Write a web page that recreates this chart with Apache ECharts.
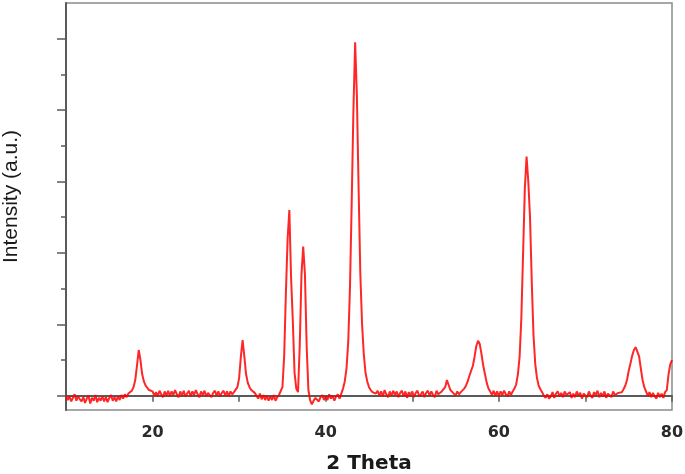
<!DOCTYPE html>
<html>
<head>
<meta charset="utf-8">
<script src="https://cdn.jsdelivr.net/npm/echarts@6/dist/echarts.min.js"></script>
<style>
html, body { margin: 0; padding: 0; background: #fff; }
#chart { width: 685px; height: 474px; }
</style>
</head>
<body>
<div id="chart"></div>
<script>
// 2θ scan, 0.2° step
var twoTheta = [
  10.0, 10.2, 10.4, 10.6, 10.8, 11.0, 11.2, 11.4, 11.6, 11.8,
  12.0, 12.2, 12.4, 12.6, 12.8, 13.0, 13.2, 13.4, 13.6, 13.8,
  14.0, 14.2, 14.4, 14.6, 14.8, 15.0, 15.2, 15.4, 15.6, 15.8,
  16.0, 16.2, 16.4, 16.6, 16.8, 17.0, 17.2, 17.4, 17.6, 17.8,
  18.0, 18.2, 18.4, 18.6, 18.8, 19.0, 19.2, 19.4, 19.6, 19.8,
  20.0, 20.2, 20.4, 20.6, 20.8, 21.0, 21.2, 21.4, 21.6, 21.8,
  22.0, 22.2, 22.4, 22.6, 22.8, 23.0, 23.2, 23.4, 23.6, 23.8,
  24.0, 24.2, 24.4, 24.6, 24.8, 25.0, 25.2, 25.4, 25.6, 25.8,
  26.0, 26.2, 26.4, 26.6, 26.8, 27.0, 27.2, 27.4, 27.6, 27.8,
  28.0, 28.2, 28.4, 28.6, 28.8, 29.0, 29.2, 29.4, 29.6, 29.8,
  30.0, 30.2, 30.4, 30.6, 30.8, 31.0, 31.2, 31.4, 31.6, 31.8,
  32.0, 32.2, 32.4, 32.6, 32.8, 33.0, 33.2, 33.4, 33.6, 33.8,
  34.0, 34.2, 34.4, 34.6, 34.8, 35.0, 35.2, 35.4, 35.6, 35.8,
  36.0, 36.2, 36.4, 36.6, 36.8, 37.0, 37.2, 37.4, 37.6, 37.8,
  38.0, 38.2, 38.4, 38.6, 38.8, 39.0, 39.2, 39.4, 39.6, 39.8,
  40.0, 40.2, 40.4, 40.6, 40.8, 41.0, 41.2, 41.4, 41.6, 41.8,
  42.0, 42.2, 42.4, 42.6, 42.8, 43.0, 43.2, 43.4, 43.6, 43.8,
  44.0, 44.2, 44.4, 44.6, 44.8, 45.0, 45.2, 45.4, 45.6, 45.8,
  46.0, 46.2, 46.4, 46.6, 46.8, 47.0, 47.2, 47.4, 47.6, 47.8,
  48.0, 48.2, 48.4, 48.6, 48.8, 49.0, 49.2, 49.4, 49.6, 49.8,
  50.0, 50.2, 50.4, 50.6, 50.8, 51.0, 51.2, 51.4, 51.6, 51.8,
  52.0, 52.2, 52.4, 52.6, 52.8, 53.0, 53.2, 53.4, 53.6, 53.8,
  54.0, 54.2, 54.4, 54.6, 54.8, 55.0, 55.2, 55.4, 55.6, 55.8,
  56.0, 56.2, 56.4, 56.6, 56.8, 57.0, 57.2, 57.4, 57.6, 57.8,
  58.0, 58.2, 58.4, 58.6, 58.8, 59.0, 59.2, 59.4, 59.6, 59.8,
  60.0, 60.2, 60.4, 60.6, 60.8, 61.0, 61.2, 61.4, 61.6, 61.8,
  62.0, 62.2, 62.4, 62.6, 62.8, 63.0, 63.2, 63.4, 63.6, 63.8,
  64.0, 64.2, 64.4, 64.6, 64.8, 65.0, 65.2, 65.4, 65.6, 65.8,
  66.0, 66.2, 66.4, 66.6, 66.8, 67.0, 67.2, 67.4, 67.6, 67.8,
  68.0, 68.2, 68.4, 68.6, 68.8, 69.0, 69.2, 69.4, 69.6, 69.8,
  70.0, 70.2, 70.4, 70.6, 70.8, 71.0, 71.2, 71.4, 71.6, 71.8,
  72.0, 72.2, 72.4, 72.6, 72.8, 73.0, 73.2, 73.4, 73.6, 73.8,
  74.0, 74.2, 74.4, 74.6, 74.8, 75.0, 75.2, 75.4, 75.6, 75.8,
  76.0, 76.2, 76.4, 76.6, 76.8, 77.0, 77.2, 77.4, 77.6, 77.8,
  78.0, 78.2, 78.4, 78.6, 78.8, 79.0, 79.2, 79.4, 79.6, 79.8,
  80.0
];
// intensity, arbitrary units (0 = baseline tick)
var intensity = [
  0, -6, -1, -8, -3, 2, -7, -1, -5, -8,
  -2, -10, -4, 0, -11, -3, -7, 1, -9, -3,
  -7, -1, -8, -2, -9, -3, 1, -7, -2, -8,
  -1, -6, 1, -4, 2, -2, 3, 2, 7, 12,
  22, 42, 64, 50, 30, 20, 14, 11, 8, 6,
  6, 0, 5, -1, 7, 2, -2, 6, 0, 7,
  -1, 6, 1, 8, 2, -2, 6, 0, 7, -1,
  3, 7, -1, 6, 1, 8, 2, -2, 6, 1,
  7, -1, 4, 6, -2, 4, 7, 0, 6, -1,
  4, 7, 0, 6, -1, 6, 2, 5, 7, 12,
  25, 55, 78, 55, 30, 18, 12, 8, 6, 4,
  2, -4, 3, -5, 1, -6, 0, -7, -1, -6,
  1, -7, -2, 1, 3, 12, 55, 144, 220, 260,
  165, 105, 32, 10, 5, 70, 170, 209, 170, 69,
  8, -6, -12, -7, -3, -1, -8, -2, 1, -6,
  -1, -6, 2, -4, 0, -7, -1, 2, -4, 3,
  10, 20, 38, 75, 150, 270, 400, 495, 420, 290,
  170, 100, 58, 32, 20, 12, 8, 5, 6, 3,
  7, 0, 6, -1, 8, 2, -2, 6, 0, 7,
  1, 6, -2, 4, 7, -1, 6, -3, 5, 1,
  6, -2, 4, 7, -1, 2, 6, -2, 4, 7,
  0, 6, 1, -2, 7, 2, 1, 6, 6, 12,
  22, 15, 8, 6, 3, 0, 6, 2, 5, 6,
  10, 14, 20, 28, 35, 42, 55, 70, 77, 72,
  58, 42, 30, 18, 10, 6, 1, 7, 0, 6,
  -1, 6, 1, 7, 2, -1, 6, 1, 6, 10,
  16, 30, 55, 110, 200, 290, 335, 300, 250, 160,
  85, 45, 25, 14, 9, 5, 0, -3, 2, -4,
  -1, 5, -3, 3, 6, -1, 4, -2, 6, 1,
  -1, 5, -3, 3, -2, 6, 0, 4, -4, 3,
  5, -2, 6, 0, -3, 5, 1, 7, -2, 4,
  -1, 6, -3, 3, 5, -2, 6, 1, -1, 4,
  4, 5, 9, 14, 22, 35, 45, 56, 64, 68,
  66, 55, 38, 22, 12, 6, 0, 5, -2, 4,
  -1, -4, 4, -2, 3, -3, 5, 8, 30, 44,
  50
];
var xLabels = [20, 40, 60, 80];
var yMajorTicks = [0, 100, 200, 300, 400, 500];
var yMinorTicks = [50, 150, 250, 350, 450];

var seriesData = twoTheta.map(function(t, i) {
  return [t, intensity[i]];
});

var axisColor = '#5a5a5a';
var chart = echarts.init(document.getElementById('chart'));
var option = {
  animation: false,
  grid: {
    left: 66,
    right: 13,
    top: 3,
    bottom: 64,
    outerBoundsMode: 'none',
    show: true,
    borderColor: '#8a8a8a',
    borderWidth: 1.5
  },
  xAxis: {
    type: 'value',
    min: 10,
    max: 80,
    interval: 10,
    name: '2 Theta',
    nameLocation: 'middle',
    nameGap: 44,
    nameTextStyle: {
      fontFamily: 'DejaVu Sans',
      fontWeight: 'bold',
      fontSize: 20,
      color: '#1a1a1a'
    },
    axisLine: { lineStyle: { color: axisColor, width: 2 } },
    axisTick: { length: 6, lineStyle: { color: axisColor, width: 1.5 } },
    axisLabel: {
      margin: 15,
      fontFamily: 'DejaVu Sans',
      fontWeight: 'bold',
      fontSize: 16,
      color: '#2a2a2a',
      showMinLabel: true,
      showMaxLabel: true,
      formatter: function(v) {
        return xLabels.indexOf(v) >= 0 ? String(v) : '';
      }
    },
    splitLine: { show: false }
  },
  yAxis: [{
    type: 'value',
    position: 'left',
    min: -20,
    max: 550,
    name: 'Intensity (a.u.)',
    nameLocation: 'middle',
    nameGap: 44,
    nameTextStyle: {
      fontFamily: 'Liberation Sans',
      fontSize: 21,
      color: '#1a1a1a',
      padding: [0, 0, 0, 20]
    },
    axisLine: { show: true, lineStyle: { color: axisColor, width: 2 } },
    axisTick: { show: true, length: 9, customValues: yMajorTicks, lineStyle: { color: axisColor, width: 1.5 } },
    axisLabel: { show: false },
    splitLine: { show: false }
  }, {
    type: 'value',
    position: 'left',
    min: -20,
    max: 550,
    axisLine: { show: false },
    axisTick: { show: true, length: 5, customValues: yMinorTicks, lineStyle: { color: axisColor, width: 1.5 } },
    axisLabel: { show: false },
    splitLine: { show: false }
  }],
  series: [{
    type: 'line',
    data: seriesData,
    yAxisIndex: 0,
    showSymbol: false,
    lineStyle: { color: '#ff0000', width: 2, opacity: 0.85 },
    itemStyle: { color: '#ff0000' }
  }]
};
chart.setOption(option);
</script>
</body>
</html>
